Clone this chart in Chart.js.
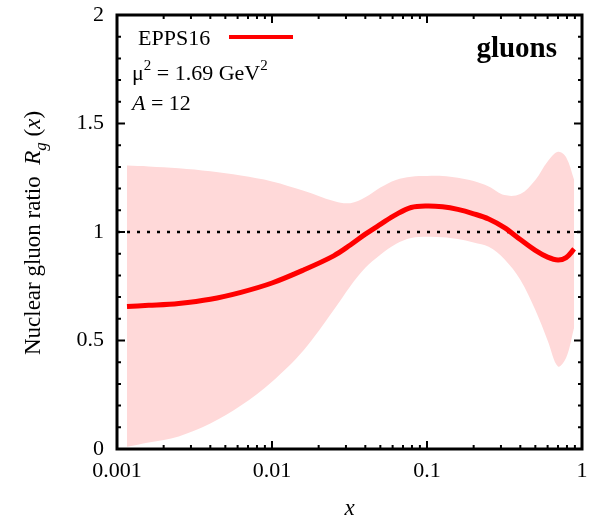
<!DOCTYPE html>
<html>
<head>
<meta charset="utf-8">
<script src="https://cdn.jsdelivr.net/npm/chart.js@4"></script>
<style>
  html, body { margin: 0; padding: 0; background: #fff; }
  #wrap { width: 590px; height: 520px; }
</style>
</head>
<body>
<div id="wrap"><canvas id="gluonChart" width="590" height="520"></canvas></div>
<script>
"use strict";

// values
var xs      = [0.00116, 0.0016, 0.0025, 0.004, 0.0063, 0.01, 0.016, 0.025, 0.032, 0.04, 0.05, 0.063, 0.079, 0.1, 0.126, 0.158, 0.2, 0.25, 0.316, 0.4, 0.5, 0.6, 0.7, 0.79, 0.89];
var central = [0.657, 0.662, 0.671, 0.690, 0.722, 0.765, 0.825, 0.89, 0.94, 0.99, 1.035, 1.08, 1.113, 1.12, 1.116, 1.104, 1.084, 1.06, 1.02, 0.965, 0.915, 0.884, 0.871, 0.882, 0.922];
var upper   = [1.306, 1.302, 1.294, 1.28, 1.26, 1.233, 1.19, 1.143, 1.133, 1.16, 1.205, 1.24, 1.255, 1.258, 1.258, 1.25, 1.235, 1.21, 1.17, 1.175, 1.24, 1.325, 1.37, 1.345, 1.24];
var lower   = [0.01, 0.03, 0.058, 0.117, 0.20, 0.31, 0.455, 0.64, 0.75, 0.835, 0.895, 0.945, 0.972, 0.978, 0.976, 0.968, 0.952, 0.932, 0.875, 0.78, 0.64, 0.50, 0.38, 0.42, 0.56];
var refLineX = [0.001, 1];
var refLineY = [1, 1];
var xTicks = [0.001, 0.01, 0.1, 1];
var yTicks = [0, 0.5, 1, 1.5, 2];

var SERIF = '"Liberation Serif", "DejaVu Serif", serif';

function pts(xv, yv) {
    return xv.map(function (x, i) { return { x: x, y: yv[i] }; });
}

function noOverhang(scale) {
    scale.paddingLeft = 0;
    scale.paddingRight = 0;
    scale.paddingTop = 0;
    scale.paddingBottom = 0;
}

var overlay = {
    id: 'overlay',
    afterDraw: function (chart) {
        var ctx = chart.ctx, a = chart.chartArea;
        var sx = chart.scales.x, sy = chart.scales.y;
        ctx.save();

        // inward tick marks on all four sides
        ctx.strokeStyle = '#000';
        ctx.lineWidth = 2;
        ctx.beginPath();
        for (var k = 0; k < xTicks.length; k++) {
            var px = sx.getPixelForValue(xTicks[k]);
            ctx.moveTo(px, a.bottom); ctx.lineTo(px, a.bottom - 8);
            ctx.moveTo(px, a.top); ctx.lineTo(px, a.top + 8);
            if (k < xTicks.length - 1) {
                for (var m = 2; m <= 9; m++) {
                    var mx = sx.getPixelForValue(xTicks[k] * m);
                    ctx.moveTo(mx, a.bottom); ctx.lineTo(mx, a.bottom - 4);
                    ctx.moveTo(mx, a.top); ctx.lineTo(mx, a.top + 4);
                }
            }
        }
        for (var j = 0; j <= 20; j++) {
            var py = sy.getPixelForValue(j / 10);
            var len = (j % 5 === 0) ? 8 : 4;
            ctx.moveTo(a.left, py); ctx.lineTo(a.left + len, py);
            ctx.moveTo(a.right, py); ctx.lineTo(a.right - len, py);
        }
        ctx.stroke();

        // frame
        ctx.lineWidth = 3;
        ctx.strokeRect(a.left, a.top, a.right - a.left, a.bottom - a.top);

        // key and labels
        ctx.fillStyle = '#000';
        ctx.textBaseline = 'alphabetic';
        ctx.textAlign = 'left';
        ctx.font = '22px ' + SERIF;
        ctx.fillText('EPPS16', 138, 45);
        ctx.strokeStyle = '#ff0000';
        ctx.lineWidth = 4;
        ctx.beginPath();
        ctx.moveTo(229, 37); ctx.lineTo(293, 37);
        ctx.stroke();

        var x0 = 132;
        ctx.font = '22px ' + SERIF;
        ctx.fillText('\u03bc', x0, 80);
        x0 += ctx.measureText('\u03bc').width;
        ctx.font = '15px ' + SERIF;
        ctx.fillText('2', x0, 70);
        x0 += ctx.measureText('2').width;
        ctx.font = '22px ' + SERIF;
        ctx.fillText(' = 1.69 GeV', x0, 80);
        x0 += ctx.measureText(' = 1.69 GeV').width;
        ctx.font = '15px ' + SERIF;
        ctx.fillText('2', x0, 70);

        x0 = 132;
        ctx.font = 'italic 22px ' + SERIF;
        ctx.fillText('A', x0, 110);
        x0 += ctx.measureText('A').width;
        ctx.font = '22px ' + SERIF;
        ctx.fillText(' = 12', x0, 110);

        ctx.font = 'bold 29px ' + SERIF;
        ctx.textAlign = 'right';
        ctx.fillText('gluons', 557, 57);

        // x axis title
        ctx.textAlign = 'center';
        ctx.font = 'italic 23px ' + SERIF;
        ctx.fillText('x', (a.left + a.right) / 2, 515);

        // y axis title with italic R_g(x)
        var parts = [
            { t: 'Nuclear gluon ratio  ', f: '23px ', dy: 0 },
            { t: 'R', f: 'italic 23px ', dy: 0 },
            { t: 'g', f: 'italic 17px ', dy: 6 },
            { t: ' (', f: '23px ', dy: 0 },
            { t: 'x', f: 'italic 23px ', dy: 0 },
            { t: ')', f: '23px ', dy: 0 }
        ];
        var total = 0;
        parts.forEach(function (p) { ctx.font = p.f + SERIF; p.w = ctx.measureText(p.t).width; total += p.w; });
        ctx.translate(40, 233);
        ctx.rotate(-Math.PI / 2);
        ctx.textAlign = 'left';
        var cx = -total / 2;
        parts.forEach(function (p) {
            ctx.font = p.f + SERIF;
            ctx.fillText(p.t, cx, p.dy);
            cx += p.w;
        });
        ctx.restore();
    }
};

var canvas = document.getElementById('gluonChart');
var chart = new Chart(canvas.getContext('2d'), {
    type: 'line',
    data: {
        datasets: [{
            label: 'EPPS16',
            data: pts(xs, central),
            borderColor: '#ff0000',
            borderWidth: 5,
            pointRadius: 0,
            tension: 0.35,
            fill: false,
            order: 0
        }, {
            label: 'ref',
            data: pts(refLineX, refLineY),
            borderColor: '#000',
            borderWidth: 2.5,
            borderDash: [3, 7],
            pointRadius: 0,
            fill: false,
            order: 1
        }, {
            label: 'upper',
            data: pts(xs, upper),
            borderWidth: 0,
            borderColor: 'rgba(0,0,0,0)',
            backgroundColor: 'rgb(255,217,217)',
            pointRadius: 0,
            tension: 0.35,
            fill: 3,
            order: 2
        }, {
            label: 'lower',
            data: pts(xs, lower),
            borderWidth: 0,
            borderColor: 'rgba(0,0,0,0)',
            pointRadius: 0,
            tension: 0.35,
            fill: false,
            order: 3
        }]
    },
    options: {
        responsive: false,
        animation: false,
        layout: { padding: { left: 0, right: 8, top: 15, bottom: 0 } },
        scales: {
            x: {
                type: 'logarithmic',
                min: 0.001,
                max: 1,
                grid: { display: false, drawTicks: false },
                border: { display: false },
                afterBuildTicks: function (scale) {
                    scale.ticks = xTicks.map(function (v) { return { value: v }; });
                },
                afterFit: function (scale) { scale.height = 71; noOverhang(scale); },
                ticks: {
                    color: '#000',
                    padding: 9,
                    maxRotation: 0,
                    autoSkip: false,
                    font: { family: SERIF, size: 22 },
                    callback: function (v) { return String(v); }
                }
            },
            y: {
                min: 0,
                max: 2,
                grid: { display: false, drawTicks: false },
                border: { display: false },
                afterBuildTicks: function (scale) {
                    scale.ticks = yTicks.map(function (v) { return { value: v }; });
                },
                afterFit: function (scale) { scale.width = 117; noOverhang(scale); },
                ticks: {
                    color: '#000',
                    padding: 13,
                    font: { family: SERIF, size: 22 },
                    callback: function (v) { return String(v); }
                }
            }
        },
        plugins: {
            legend: { display: false },
            tooltip: { enabled: false }
        }
    },
    plugins: [overlay]
});
</script>
</body>
</html>
